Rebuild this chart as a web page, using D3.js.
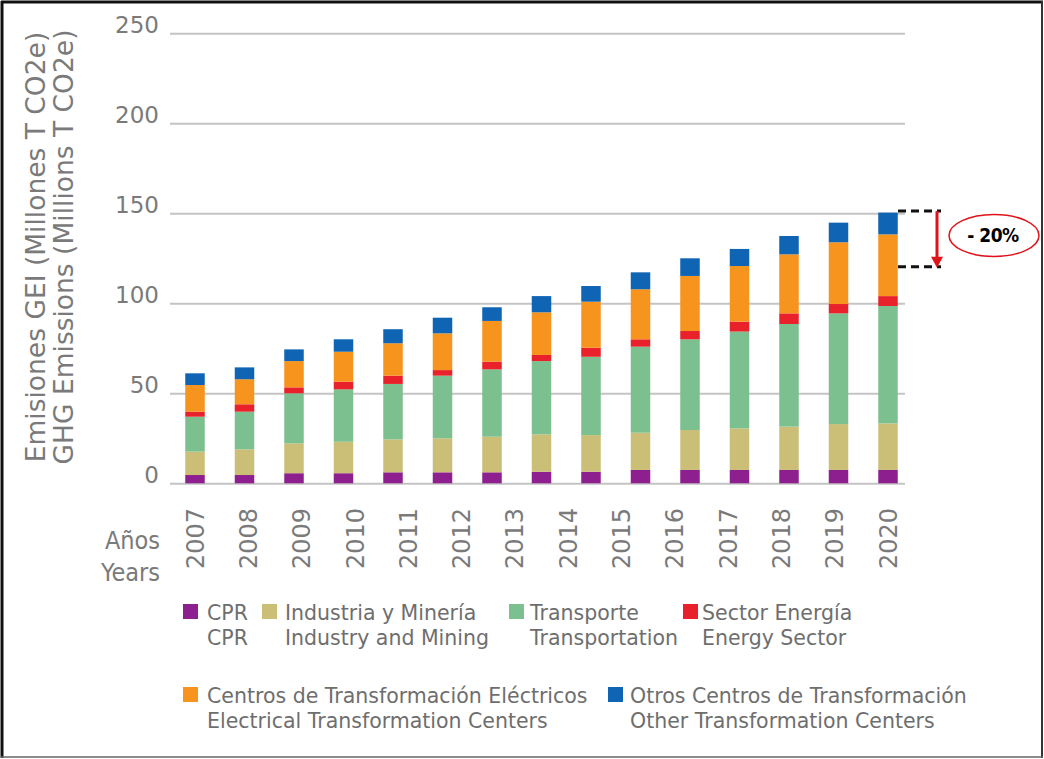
<!DOCTYPE html>
<html>
<head>
<meta charset="utf-8">
<script src="https://cdn.jsdelivr.net/npm/d3@7"></script>
<style>
  body { margin: 0; background: #fff; }
  svg { display: block; }
</style>
</head>
<body>
<div id="chart"></div>
<script>
// data (15 bars, 14 year labels as in the original)
const barIds = [1, 2, 3, 4, 5, 6, 7, 8, 9, 10, 11, 12, 13, 14, 15];
const years = ["2007", "2008", "2009", "2010", "2011", "2012", "2013",
  "2014", "2015", "2016", "2017", "2018", "2019", "2020"];
const yTicks = [0, 50, 100, 150, 200, 250];

const cpr = [4.6, 4.6, 5.6, 5.6, 6.1, 6.1, 6.1, 6.4, 6.4, 7.4, 7.4, 7.4, 7.4, 7.4, 7.4];
const industry = [13.0, 14.3, 16.6, 17.5, 18.3, 18.9, 19.8, 20.8, 20.4, 20.7, 22.2, 23.1, 24.1, 25.5, 25.9];
const transport = [19.4, 20.9, 27.8, 29.1, 30.8, 34.8, 37.4, 40.7, 43.5, 47.8, 50.4, 53.8, 57.0, 61.5, 65.2];
const energy = [2.8, 4.1, 3.3, 4.2, 4.6, 3.1, 4.3, 3.4, 5.0, 4.1, 4.6, 5.5, 5.9, 5.2, 5.5];
const electrical = [14.8, 13.9, 14.6, 16.7, 18.0, 20.4, 22.6, 23.7, 25.6, 27.8, 30.6, 30.9, 32.8, 34.3, 34.3];
const other = [6.5, 6.6, 6.5, 6.9, 7.8, 8.7, 7.6, 9.0, 8.7, 9.4, 9.8, 9.5, 10.2, 10.9, 12.1];

const seriesKeys = ["cpr", "industry", "transport", "energy", "electrical", "other"];
const seriesEs = ["CPR", "Industria y Minería", "Transporte", "Sector Energía",
  "Centros de Transformación Eléctricos", "Otros Centros de Transformación"];
const seriesEn = ["CPR", "Industry and Mining", "Transportation", "Energy Sector",
  "Electrical Transformation Centers", "Other Transformation Centers"];
const seriesColors = ["#8e1f8f", "#cbbf78", "#7cc08f", "#e8212b", "#f7941e", "#0f64b4"];

const reduction = 0.20;
const reductionLabel = "- 20%";

// Step 1: svg
const svgWidth = 1044, svgHeight = 759;
const svg = d3.select("#chart").append("svg")
  .attr("width", svgWidth)
  .attr("height", svgHeight);

// frame
svg.append("line").attr("x1", 2).attr("x2", 2).attr("y1", 1).attr("y2", 758)
  .attr("stroke", "#111").attr("stroke-width", 3);
svg.append("line").attr("x1", 1).attr("x2", 1043).attr("y1", 2).attr("y2", 2)
  .attr("stroke", "#111").attr("stroke-width", 3);
svg.append("line").attr("x1", 1042).attr("x2", 1042).attr("y1", 1).attr("y2", 758)
  .attr("stroke", "#333").attr("stroke-width", 2);
svg.append("line").attr("x1", 1).attr("x2", 1043).attr("y1", 757).attr("y2", 757)
  .attr("stroke", "#666").attr("stroke-width", 1.5);

// Step 2: scales
const plotLeft = 170, plotRight = 905;
const y = d3.scaleLinear().domain([0, 250]).range([483.3, 33.3]);
const xBar = d3.scalePoint().domain(barIds).range([195, 888]);
const xYear = d3.scalePoint().domain(years).range([195, 888]);
const barW = 19.5;

// Step 3: stack
const table = barIds.map((id, i) => ({
  id: id,
  cpr: cpr[i], industry: industry[i], transport: transport[i],
  energy: energy[i], electrical: electrical[i], other: other[i]
}));
const stacked = d3.stack().keys(seriesKeys)(table);
const color = d3.scaleOrdinal().domain(seriesKeys).range(seriesColors);

// Step 4: y axis with gridlines
const yAxis = d3.axisLeft(y)
  .tickValues(yTicks)
  .tickSize(-(plotRight - plotLeft))
  .tickPadding(11);

const yAxisG = svg.append("g")
  .attr("transform", `translate(${plotLeft},0)`)
  .call(yAxis);
yAxisG.select(".domain").remove();
yAxisG.selectAll("line").attr("stroke", "#c4c4c4").attr("stroke-width", 2);
yAxisG.selectAll("text")
  .attr("y", -8)
  .attr("fill", "#7a7a7a")
  .style("font-family", "DejaVu Sans")
  .style("font-size", "23px");

// Step 5: bars
svg.append("g").selectAll("g")
  .data(stacked)
  .enter()
  .append("g")
  .attr("fill", d => color(d.key))
  .selectAll("rect")
  .data(d => d)
  .enter()
  .append("rect")
  .attr("x", d => xBar(d.data.id) - barW / 2)
  .attr("y", d => y(d[1]))
  .attr("width", barW)
  .attr("height", d => y(d[0]) - y(d[1]));

// Step 6: year labels (rotated, reading upwards)
svg.append("g").selectAll("text")
  .data(years)
  .enter()
  .append("text")
  .attr("transform", d => `translate(${xYear(d)},569) rotate(-90)`)
  .attr("dy", "0.36em")
  .attr("text-anchor", "start")
  .attr("fill", "#7a7a7a")
  .style("font-family", "DejaVu Sans")
  .style("font-size", "24px")
  .text(d => d);

svg.append("text")
  .attr("x", 160).attr("y", 549)
  .attr("text-anchor", "end")
  .attr("fill", "#7a7a7a")
  .style("font-family", "DejaVu Sans Condensed, DejaVu Sans")
  .style("font-size", "25px")
  .text("Años");
svg.append("text")
  .attr("x", 160).attr("y", 581)
  .attr("text-anchor", "end")
  .attr("fill", "#7a7a7a")
  .style("font-family", "DejaVu Sans Condensed, DejaVu Sans")
  .style("font-size", "25px")
  .text("Years");

// y axis title, two lines
const yTitle = ["Emisiones GEI (Millones T CO2e)", "GHG Emissions (Millions T CO2e)"];
svg.append("g").selectAll("text")
  .data(yTitle)
  .enter()
  .append("text")
  .attr("transform", (d, i) => `translate(${35 + i * 28},247) rotate(-90)`)
  .attr("dy", "0.36em")
  .attr("text-anchor", "middle")
  .attr("fill", "#7a7a7a")
  .style("font-family", "DejaVu Sans")
  .style("font-size", "26.5px")
  .text(d => d);

// Step 7: legend
const legendPos = [[183, 604], [262, 604], [509, 604], [683, 604], [183, 687], [608, 687]];
const legendTextX = [207, 285, 530, 702, 207, 630];
const legend = svg.append("g").selectAll("g")
  .data(seriesKeys)
  .enter()
  .append("g");
legend.append("rect")
  .attr("x", (d, i) => legendPos[i][0])
  .attr("y", (d, i) => legendPos[i][1])
  .attr("width", 15).attr("height", 15)
  .attr("fill", d => color(d));
legend.append("text")
  .attr("x", (d, i) => legendTextX[i])
  .attr("y", (d, i) => legendPos[i][1] + 16)
  .attr("fill", "#6e6e6e")
  .style("font-family", "DejaVu Sans")
  .style("font-size", "20.5px")
  .text((d, i) => seriesEs[i]);
legend.append("text")
  .attr("x", (d, i) => legendTextX[i])
  .attr("y", (d, i) => legendPos[i][1] + 41)
  .attr("fill", "#6e6e6e")
  .style("font-family", "DejaVu Sans")
  .style("font-size", "20.5px")
  .text((d, i) => seriesEn[i]);

// Step 8: -20% annotation
const lastTotal = d3.sum(seriesKeys, k => table[table.length - 1][k]);
const yTop = y(lastTotal) - 1.5;
const yLow = y(lastTotal * (1 - reduction));
const ann = svg.append("g");
[yTop, yLow].forEach(yy => {
  ann.append("line")
    .attr("x1", 898).attr("x2", 941)
    .attr("y1", yy).attr("y2", yy)
    .attr("stroke", "#111")
    .attr("stroke-width", 3)
    .attr("stroke-dasharray", "8,5");
});
ann.append("line")
  .attr("x1", 937).attr("x2", 937)
  .attr("y1", yTop).attr("y2", yLow - 8)
  .attr("stroke", "#e0131b").attr("stroke-width", 3);
ann.append("path")
  .attr("d", `M931,${yLow - 10} L943,${yLow - 10} L937,${yLow + 1} Z`)
  .attr("fill", "#e0131b");
ann.append("ellipse")
  .attr("cx", 994).attr("cy", 235.5)
  .attr("rx", 45).attr("ry", 21)
  .attr("fill", "none")
  .attr("stroke", "#e0131b")
  .attr("stroke-width", 1.5);
ann.append("text")
  .attr("x", 993).attr("y", 242)
  .attr("text-anchor", "middle")
  .attr("fill", "#000")
  .style("font-family", "DejaVu Sans Condensed, DejaVu Sans")
  .style("font-weight", "bold")
  .style("font-size", "19px")
  .style("letter-spacing", "-0.5px")
  .text(reductionLabel);
</script>
</body>
</html>
